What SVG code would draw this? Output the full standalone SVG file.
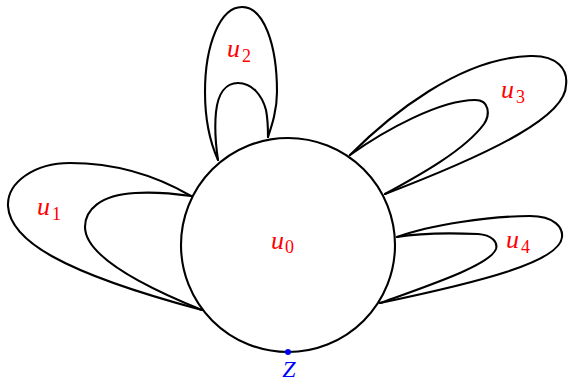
<svg xmlns="http://www.w3.org/2000/svg" width="568" height="384" viewBox="0 0 568 384">
<style>
.ln{fill:none;stroke:#000;stroke-width:2.1;stroke-linejoin:round;stroke-linecap:round}
.lb{font-family:"Liberation Serif","Times New Roman",serif;font-style:italic;font-size:26px;fill:#ff0000}
.sb{font-style:normal;font-size:18px}
.z{font-family:"Liberation Serif","Times New Roman",serif;font-style:italic;font-size:24px;fill:#0000ff}
</style>
<rect width="568" height="384" fill="#fff"/>
<g id="connectors">
<path class="ln" d="M191,196 C150,172 110,163 70,163 C35,163 7,182 8,206 C10,240 60,272 202,310"/>
<path class="ln" d="M191,196 C170,193 150,192 135,193 C100,195 85,210 85,227 C85,255 140,285 202,310"/>
<path class="ln" d="M218,160 C209,140 205,115 205,92 C205,45 220,7 242,7 C264,7 277,45 277,92 C277,110 272,125 268,137"/>
<path class="ln" d="M218,160 C215,140 215,122 216,112 C218,93 226,83 238,83 C252,83 262,95 266,110 C268,120 268,130 268,137"/>
<path class="ln" d="M350,155 C390,115 460,58 530,56 C558,55 568,70 566,85 C566,115 500,150 385,194"/>
<path class="ln" d="M350,155 C385,130 440,100 475,100 C490,100 490,115 484,124 C465,150 420,175 385,194"/>
<path class="ln" d="M397,237 C430,225 490,216 530,216 C555,216 563,228 562,237 C560,262 480,282 380,303"/>
<path class="ln" d="M397,237 C420,233 455,233 478,234 C492,235 498,242 496,249 C490,265 430,285 380,303"/>
</g>
<g id="u0">
<circle class="ln" cx="288" cy="245" r="107"/>
<text class="lb" x="271" y="249">u<tspan class="sb" dx="1" dy="4">0</tspan></text>
</g>
<g id="u1"><text class="lb" x="37" y="215">u<tspan class="sb" dx="2" dy="5">1</tspan></text></g>
<g id="u2"><text class="lb" x="227" y="57">u<tspan class="sb" dx="2" dy="5">2</tspan></text></g>
<g id="u3"><text class="lb" x="501" y="98">u<tspan class="sb" dx="2" dy="5">3</tspan></text></g>
<g id="u4"><text class="lb" x="506" y="248">u<tspan class="sb" dx="2" dy="5">4</tspan></text></g>
<g id="Z">
<circle cx="288" cy="352" r="3" fill="#0000ff"/>
<text class="z" x="289" y="377" text-anchor="middle">Z</text>
</g>
</svg>
